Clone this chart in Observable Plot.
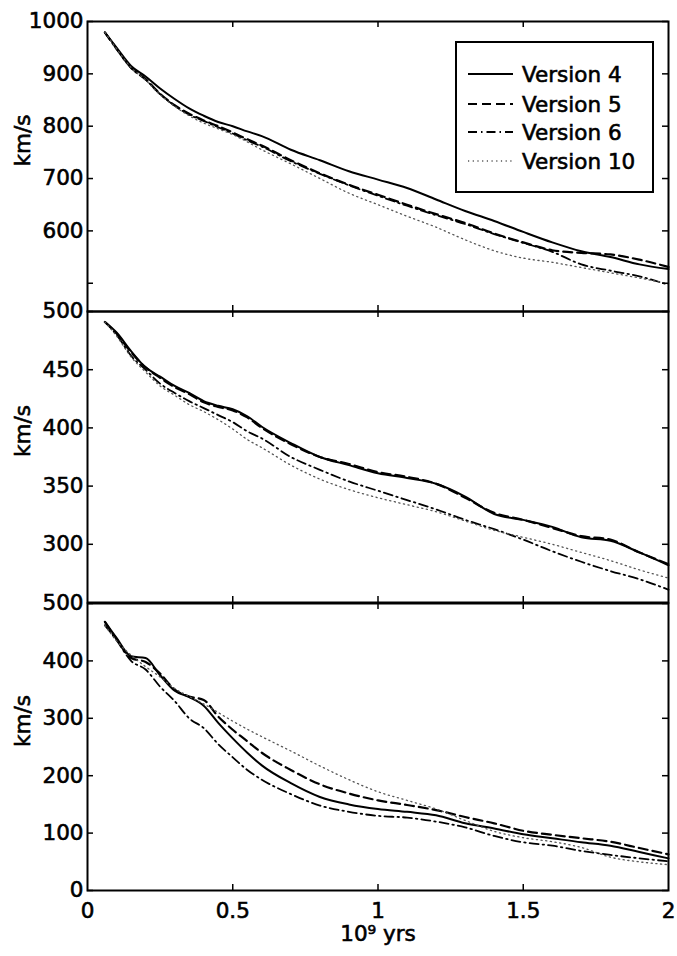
<!DOCTYPE html>
<html><head><meta charset="utf-8">
<script src="https://cdn.jsdelivr.net/npm/d3@7"></script>
<script src="https://cdn.jsdelivr.net/npm/@observablehq/plot@0.6"></script>
<style>
body{margin:0;background:#fff;}
#chart{position:relative;width:677px;height:956px;background:#fff;}
#chart svg{position:absolute;left:0;overflow:visible;background:transparent;}
#chart svg text{font-family:"DejaVu Sans";fill:#000;stroke:#000;stroke-width:0.6px;}
</style></head><body><div id="chart"></div>
<script>
// ---- data ----
const years = [0.06,0.1,0.15,0.2,0.25,0.3,0.35,0.4,0.45,0.5,0.55,0.6,0.7,0.8,0.9,1.0,1.1,1.2,1.3,1.4,1.5,1.6,1.7,1.8,1.9,2.0];
const seriesNames = ["Version 4","Version 5","Version 6","Version 10"];

const top_v4  = [979,950,915,895,872,852,834,820,808,800,790,781,755,735,714,698,682,660,638,619,598,578,561,550,536,527];
const top_v5  = [979,948,912,890,862,840,824,811,800,788,775,763,735,710,688,669,650,632,615,595,578,563,558,555,545,531];
const top_v6  = [979,947,911,889,861,839,822,810,798,786,773,761,733,709,687,667,648,630,613,594,577,560,536,524,513,497];
const top_v10 = [979,948,912,888,860,838,820,806,795,784,770,755,728,700,672,650,628,607,583,562,548,540,530,520,510,499];

const mid_v4  = [491,482,466,452,444,436,430,423,419,416,410,401,387,375,368,361,357,352,341,326,321,315,306,303,293,282];
const mid_v5  = [491,481,465,452,443,435,429,422,418,415,409,400,386,375,369,362,358,352,340,327,321,314,307,304,293,283];
const mid_v6  = [491,480,462,450,438,430,423,417,411,405,397,391,375,364,354,346,338,330,321,313,304,294,285,277,270,261];
const mid_v10 = [491,479,461,448,436,428,420,414,407,399,390,383,368,356,347,340,334,328,320,312,306,300,293,286,278,271];

const bot_v4  = [468,440,408,405,375,348,337,322,292,265,240,218,187,163,150,142,137,131,117,108,98,91,84,78,67,56];
const bot_v5  = [468,438,405,398,378,350,338,332,303,280,260,240,210,185,169,157,149,140,128,117,104,97,91,85,74,63];
const bot_v6  = [462,436,400,385,355,330,300,283,255,232,210,193,168,148,137,130,127,120,110,95,84,78,69,62,56,51];
const bot_v10 = [462,435,410,390,372,352,338,325,310,295,281,268,243,217,193,172,157,142,122,103,92,85,75,58,50,45];

const xTickLabels = [0,0.5,1,1.5,2];
const xInnerTicks = [0.5,1,1.5];
const topYTicks = [500,600,700,800,900,1000];
const topYLabels = [600,700,800,900,1000];
const midYTicks = [300,350,400,450,500];
const botYTicks = [0,100,200,300,400,500];
const yLabel = "km/s";
const xLabel = "10\u2079 yrs";

// ---- styles ----
const FS = 21.5;
const lineStyle = {
  "Version 4":  {stroke:"#000", strokeWidth:2},
  "Version 5":  {stroke:"#000", strokeWidth:2.2, strokeDasharray:"9,5"},
  "Version 6":  {stroke:"#000", strokeWidth:1.8, strokeDasharray:"9,4,1.5,4"},
  "Version 10": {stroke:"#555", strokeWidth:1.3, strokeDasharray:"1.2,3.5"}
};

function rowsFor(arrs){
  const out = [];
  arrs.forEach((vals,i) => years.forEach((x,j) => out.push({x, y: vals[j], s: seriesNames[i]})));
  return out;
}

const W = 677, ML = 87, MR = 9;
const plotW = W - ML - MR;

function panel({top, height, mt, mb, domain, ticks, labels, arrs, bottomAxis}) {
  const plotH = height - mt - mb;
  const rows = rowsFor(arrs);
  const marks = [];
  for (const s of seriesNames) {
    marks.push(Plot.line(rows.filter(r => r.s === s), {x:"x", y:"y", curve:"monotone-x", ...lineStyle[s]}));
  }
  marks.push(
    Plot.tickY(ticks, {y: d=>d, insetRight: plotW-6, strokeWidth:1.5}),
    Plot.tickY(ticks, {y: d=>d, insetLeft: plotW-6, strokeWidth:1.5}),
    Plot.tickX(xInnerTicks, {x: d=>d, insetBottom: plotH-6, strokeWidth:1.5}),
    Plot.tickX(xInnerTicks, {x: d=>d, insetTop: plotH-6, strokeWidth:1.5}),
    Plot.axisY({ticks: labels, tickSize:0, tickPadding:4, tickFormat: d=>String(d), label:null, fontSize:FS}),
    Plot.text([yLabel], {text: d=>d, frameAnchor:"left", rotate:-90, dx:-64, fontSize:FS}),
    Plot.frame({stroke:"#000", strokeWidth:2})
  );
  if (bottomAxis) {
    marks.push(
      Plot.axisX({ticks: xTickLabels, tickSize:0, tickPadding:12, tickFormat: d=>String(d), label:null, fontSize:FS}),
      Plot.text([xLabel], {text: d=>d, frameAnchor:"bottom", dy:50, fontSize:FS})
    );
  }
  const svg = Plot.plot({
    width: W, height, marginLeft: ML, marginRight: MR, marginTop: mt, marginBottom: mb,
    style: {background:"transparent", overflow:"visible", fontFamily:"DejaVu Sans", fontSize: FS+"px", color:"#000"},
    x: {domain:[0,2], axis: bottomAxis ? undefined : null},
    y: {domain},
    marks
  });
  svg.style.top = top + "px";
  document.getElementById("chart").appendChild(svg);
}

panel({top:0,   height:320, mt:21, mb:9,  domain:[446,1000], ticks:topYTicks, labels:topYLabels, arrs:[top_v4,top_v5,top_v6,top_v10]});
panel({top:302, height:309, mt:9,  mb:9,  domain:[250,500],  ticks:midYTicks, labels:midYTicks, arrs:[mid_v4,mid_v5,mid_v6,mid_v10]});
panel({top:594, height:362, mt:9,  mb:66, domain:[0,500],    ticks:botYTicks, labels:botYTicks, arrs:[bot_v4,bot_v5,bot_v6,bot_v10], bottomAxis:true});

// ---- legend (inside top panel) ----
const lg = d3.select("#chart").append("svg")
  .attr("width", 200).attr("height", 153)
  .style("left","455px").style("top","41px");
lg.append("rect").attr("x",1).attr("y",1).attr("width",197).attr("height",150)
  .attr("fill","#fff").attr("stroke","#000").attr("stroke-width",2);
const rowY = [33, 63, 91, 120];
seriesNames.forEach((s,i) => {
  const st = lineStyle[s];
  lg.append("line").attr("x1",13).attr("x2",58).attr("y1",rowY[i]).attr("y2",rowY[i])
    .attr("stroke",st.stroke).attr("stroke-width",st.strokeWidth)
    .attr("stroke-dasharray",st.strokeDasharray || null);
  lg.append("text").attr("x",67).attr("y",rowY[i]).attr("dy","0.36em")
    .attr("font-size",FS).text(s);
});
</script></body></html>
